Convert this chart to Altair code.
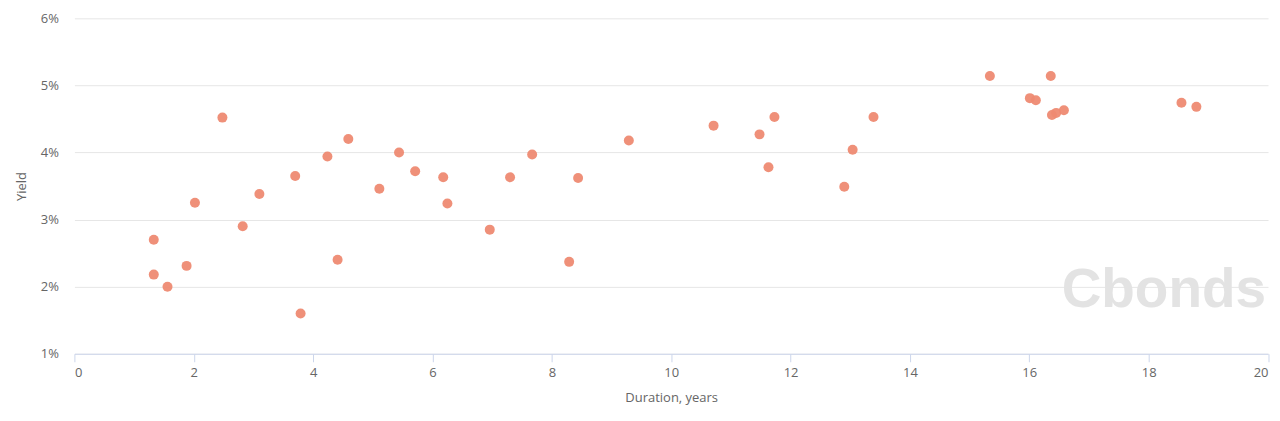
import altair as alt
import pandas as pd

duration = [1.33, 1.33, 1.56, 1.88, 2.02, 2.48, 2.82, 3.10, 3.70, 3.79,
            4.24, 4.41, 4.59, 5.11, 5.44, 5.71, 6.18, 6.25, 6.96, 7.30,
            7.67, 8.29, 8.44, 9.29, 10.71, 11.48, 11.63, 11.73, 12.90, 13.04,
            13.39, 15.34, 16.01, 16.11, 16.36, 16.38, 16.45, 16.58, 18.55, 18.80]
yields = [2.70, 2.18, 2.00, 2.31, 3.25, 4.52, 2.90, 3.38, 3.65, 1.60,
          3.94, 2.40, 4.20, 3.46, 4.00, 3.72, 3.63, 3.24, 2.85, 3.63,
          3.97, 2.37, 3.62, 4.18, 4.40, 4.27, 3.78, 4.53, 3.49, 4.04,
          4.53, 5.14, 4.81, 4.78, 5.14, 4.56, 4.59, 4.63, 4.74, 4.68]
x_ticks = [0, 2, 4, 6, 8, 10, 12, 14, 16, 18, 20]
y_ticks = [1, 2, 3, 4, 5, 6]
watermark = ["Cbonds"]

df = pd.DataFrame({"Duration": duration, "Yield": yields})

W, H = 1195.5, 336
FONT = "Open Sans"

points = alt.Chart(df).mark_circle(size=100, color="#ee8a72", opacity=0.95).encode(
    x=alt.X("Duration:Q", scale=alt.Scale(domain=[0, 20], nice=False),
            axis=alt.Axis(values=x_ticks, title="Duration, years", grid=False,
                          domainColor="#ccd6eb", tickColor="#ccd6eb", tickSize=8,
                          labelPadding=5, labelColor="#666666", labelFontSize=13,
                          labelFont=FONT, titleFont=FONT, titleFontSize=13,
                          titleColor="#666666", titleFontWeight="normal",
                          titlePadding=12)),
    y=alt.Y("Yield:Q", scale=alt.Scale(domain=[1, 6], nice=False),
            axis=alt.Axis(values=y_ticks, labelExpr="datum.value + '%'", title="Yield",
                          domain=False, ticks=False, tickSize=0, labelPadding=16,
                          gridColor="#e6e6e6", labelColor="#666666", labelFontSize=13,
                          labelFont=FONT, titleFont=FONT, titleFontSize=13,
                          titleColor="#666666", titleFontWeight="normal",
                          titlePadding=12)),
)

wm = alt.Chart(pd.DataFrame({"t": watermark})).mark_text(
    font="Liberation Sans", fontWeight="bold", fontSize=55, color="#e3e3e3",
    align="right", baseline="alphabetic"
).encode(x=alt.value(W - 2), y=alt.value(H - 47), text="t:N")

chart = alt.layer(points, wm).properties(
    width=W, height=H,
    background="white",
    autosize=alt.AutoSizeParams(type="none"),
    padding={"left": 66.5, "top": 10, "right": 4, "bottom": 56},
).configure_view(stroke=None).configure_axisY(domain=False)

chart.save("out.html", embed_options={"renderer": "svg", "actions": False})
